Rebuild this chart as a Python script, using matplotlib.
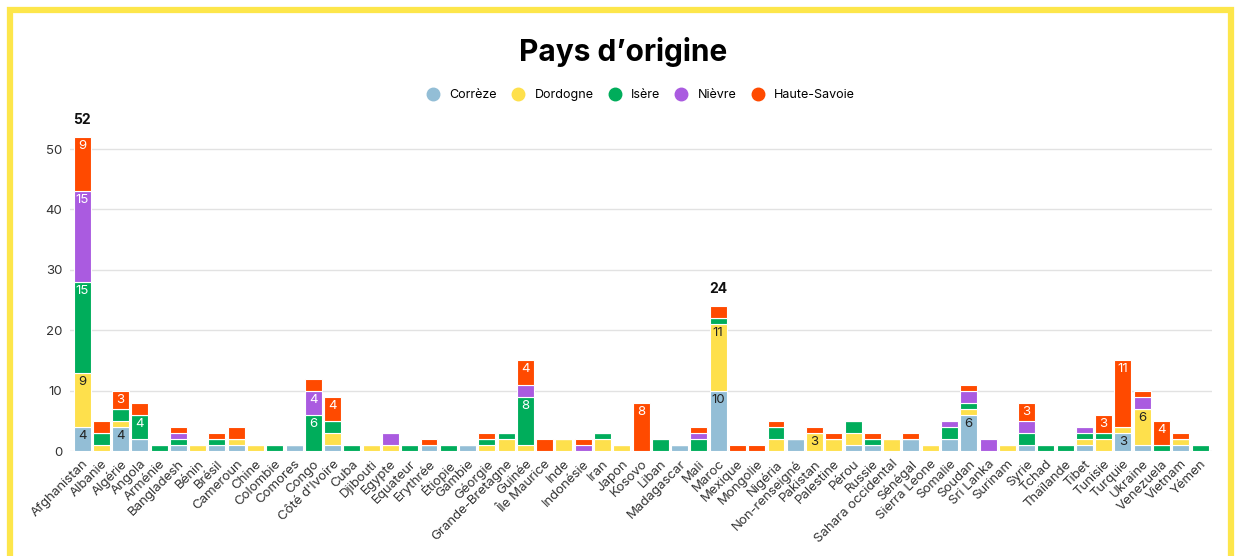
import matplotlib
matplotlib.use("Agg")
import matplotlib.pyplot as plt
import numpy as np
from matplotlib.patches import Rectangle
from matplotlib.lines import Line2D

plt.rcParams['font.family'] = ['Inter', 'DejaVu Sans']

countries = ["Afghanistan", "Albanie", "Algérie", "Angola", "Arménie", "Bangladesh", "Bénin",
             "Brésil", "Cameroun", "Chine", "Colombie", "Comores", "Congo", "Côté d'Ivoire",
             "Cuba", "Djibouti", "Egypte", "Equateur", "Erythrée", "Étiopie", "Gambie",
             "Géorgie", "Grande-Bretagne", "Guinée", "Île Maurice", "Inde", "Indonésie",
             "Iran", "Japon", "Kosovo", "Liban", "Madagascar", "Mali", "Maroc", "Mexique",
             "Mongolie", "Nigéria", "Non-renseigné", "Pakistan", "Palestine", "Pérou",
             "Russie", "Sahara occidental", "Sénégal", "Sierra Leone", "Somalie", "Soudan",
             "Sri Lanka", "Surinam", "Syrie", "Tchad", "Thaïlande", "Tibet", "Tunisie",
             "Turquie", "Ukraine", "Venezuela", "Vietnam", "Yémen"]

correze = [4, 0, 4, 2, 0, 1, 0, 1, 1, 0, 0, 1, 0, 1, 0, 0, 0, 0, 1, 0, 1, 0, 0, 0, 0, 0, 0,
           0, 0, 0, 0, 1, 0, 10, 0, 0, 0, 2, 0, 0, 1, 1, 0, 2, 0, 2, 6, 0, 0, 1, 0, 0, 1, 0,
           3, 1, 0, 1, 0]
dordogne = [9, 1, 1, 0, 0, 0, 1, 0, 1, 1, 0, 0, 0, 2, 0, 1, 1, 0, 0, 0, 0, 1, 2, 1, 0, 2, 0,
            2, 1, 0, 0, 0, 0, 11, 0, 0, 2, 0, 3, 2, 2, 0, 2, 0, 1, 0, 1, 0, 1, 0, 0, 0, 1, 2,
            1, 6, 0, 1, 0]
isere = [15, 2, 2, 4, 1, 1, 0, 1, 0, 0, 1, 0, 6, 2, 1, 0, 0, 1, 0, 1, 0, 1, 1, 8, 0, 0, 0,
         1, 0, 0, 2, 0, 2, 1, 0, 0, 2, 0, 0, 0, 2, 1, 0, 0, 0, 2, 1, 0, 0, 2, 1, 1, 1, 1,
         0, 0, 1, 0, 1]
nievre = [15, 0, 0, 0, 0, 1, 0, 0, 0, 0, 0, 0, 4, 0, 0, 0, 2, 0, 0, 0, 0, 0, 0, 2, 0, 0, 1,
          0, 0, 0, 0, 0, 1, 0, 0, 0, 0, 0, 0, 0, 0, 0, 0, 0, 0, 1, 2, 2, 0, 2, 0, 0, 1, 0,
          0, 2, 0, 0, 0]
haute_savoie = [9, 2, 3, 2, 0, 1, 0, 1, 2, 0, 0, 0, 2, 4, 0, 0, 0, 0, 1, 0, 0, 1, 0, 4, 2, 0, 1,
                0, 0, 8, 0, 0, 1, 2, 1, 1, 1, 0, 1, 1, 0, 1, 0, 1, 0, 0, 1, 0, 0, 3, 0, 0, 0, 3,
                11, 1, 4, 1, 0]

series_names = ["Corrèze", "Dordogne", "Isère", "Nièvre", "Haute-Savoie"]
series_values = [correze, dordogne, isere, nievre, haute_savoie]
colors = ["#93bed6", "#fee04c", "#00ad5b", "#aa5be0", "#ff4a00"]
label_colors = ["#222222", "#222222", "white", "white", "white"]

fig = plt.figure(figsize=(12.36, 5.56), dpi=100)
ax = fig.add_axes([0.057, 0.1888, 0.9233, 0.5975])

x = np.arange(len(countries))
bottom = np.zeros(len(countries))
for name, vals, col, lc in zip(series_names, series_values, colors, label_colors):
    v = np.array(vals, dtype=float)
    ax.bar(x, v, bottom=bottom, width=0.88, color=col, edgecolor="white",
           linewidth=0.8, zorder=3)
    for xi, (b, val) in enumerate(zip(bottom, v)):
        if val >= 3:
            ax.annotate(f"{int(val)}", (xi, b + val), xytext=(0, -6.5),
                        textcoords="offset points", ha="center", va="center",
                        fontsize=9.5, color=lc, zorder=4)
    bottom += v

for xi, tot in enumerate(bottom):
    if tot >= 20:
        ax.annotate(f"{int(tot)}", (xi, tot), xytext=(0, 12),
                    textcoords="offset points", ha="center", va="center",
                    fontsize=10, fontweight="bold", color="#111111")

ax.set_xlim(-0.6, len(countries) - 0.4)
ax.set_ylim(0, 55)
ax.set_yticks([0, 10, 20, 30, 40, 50])
ax.grid(axis="y", color="#e2e2e2", linewidth=1, zorder=0)
ax.set_xticks(x)
ax.set_xticklabels(countries, rotation=45, ha="right", rotation_mode="anchor",
                   fontsize=9.5, color="#333333")
ax.tick_params(axis="y", labelsize=9.5, colors="#333333", length=0, pad=6)
ax.tick_params(axis="x", length=0, pad=5)
for s in ax.spines.values():
    s.set_visible(False)

fig.text(0.504, 0.906, "Pays d’origine", ha="center", va="center",
         fontsize=21.5, fontweight="bold", color="#000000")

handles = [Line2D([0], [0], marker="o", linestyle="", markersize=9,
                  markerfacecolor=c, markeredgecolor=c) for c in colors]
fig.legend(handles, series_names, loc="center", bbox_to_anchor=(0.516, 0.829),
           ncol=5, frameon=False, fontsize=9, handletextpad=0.3, columnspacing=0.7)

border = Rectangle((10 / 1236, -0.1), (1231 - 10) / 1236, 1.1 - 10 / 556 + 0.0,
                   transform=fig.transFigure, fill=False, edgecolor="#fde64b",
                   linewidth=4.5, clip_on=False)
fig.patches.append(border)

fig.savefig("out.png", dpi=100, facecolor="white")
